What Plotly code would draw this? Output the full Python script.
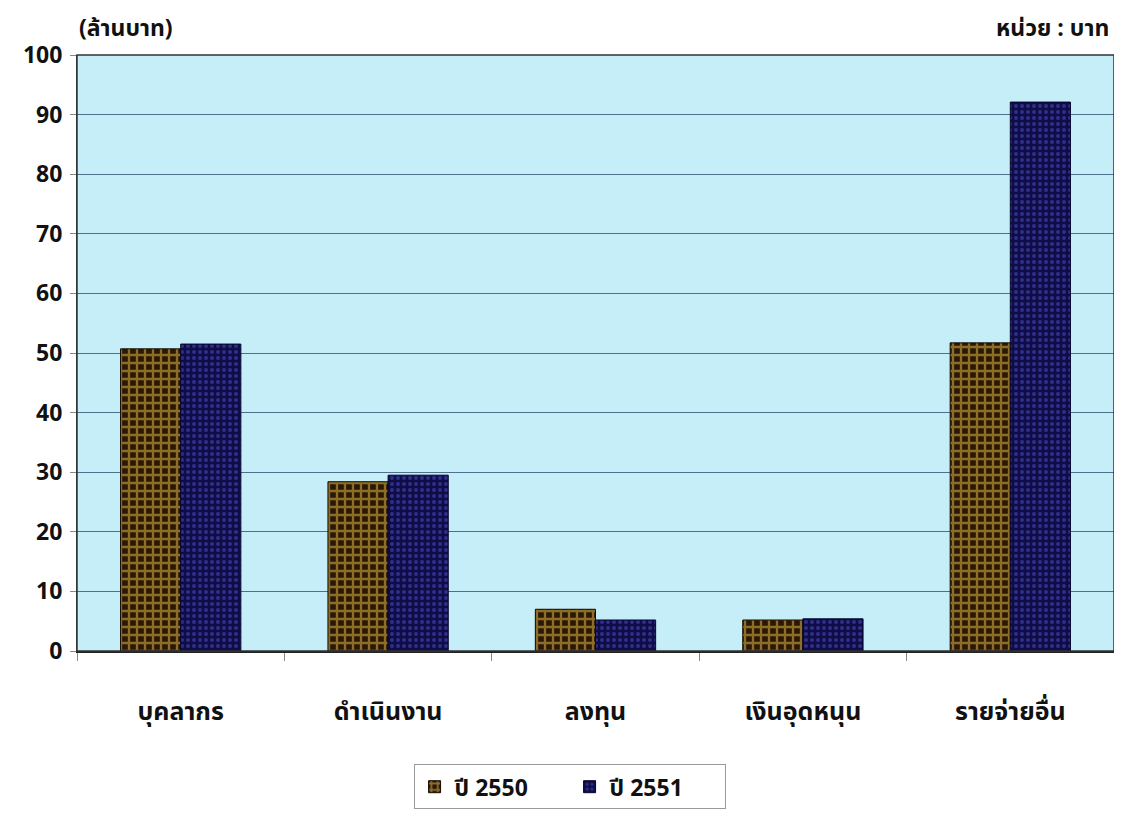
import plotly.graph_objects as go

categories = ["บุคลากร", "ดำเนินงาน", "ลงทุน", "เงินอุดหนุน", "รายจ่ายอื่น"]
series_names = ["ปี 2550", "ปี 2551"]
values_2550 = [50.7, 28.4, 7.0, 5.2, 51.7]
values_2551 = [51.5, 29.5, 5.2, 5.4, 92.1]
y_ticks = [0, 10, 20, 30, 40, 50, 60, 70, 80, 90, 100]

FONT = "Tahoma, 'Noto Sans Thai', 'Noto Sans', sans-serif"

fig = go.Figure()
fig.add_trace(go.Bar(
    x=categories, y=values_2550, name=series_names[0],
    marker=dict(
        color="#2a1805",
        line=dict(color="#140a00", width=1),
        pattern=dict(shape="+", fgcolor="#f2c24c", bgcolor="#2a1805", size=8, solidity=0.5),
    ),
))
fig.add_trace(go.Bar(
    x=categories, y=values_2551, name=series_names[1],
    marker=dict(
        color="#0f0c46",
        line=dict(color="#05052a", width=1),
        pattern=dict(shape=".", fgcolor="#4e52d0", bgcolor="#0f0c46", size=6, solidity=0.35),
    ),
))

fig.update_layout(
    width=1106, height=807,
    margin=dict(l=69, r=0, t=47, b=164),
    paper_bgcolor="white",
    plot_bgcolor="#c6eef8",
    barmode="group",
    bargap=0.42,
    bargroupgap=0.0,
    font=dict(family=FONT, size=18, color="#111111"),
    showlegend=True,
    legend=dict(
        orientation="h", x=0.475, xanchor="center", y=-0.19, yanchor="top",
        bordercolor="#999999", borderwidth=1, bgcolor="white",
        font=dict(family=FONT, size=23, color="#111111", weight="bold"),
        itemwidth=30, entrywidth=110, traceorder="normal",
    ),
    xaxis=dict(
        showgrid=False,
        showline=True, linecolor="#222222", linewidth=2, mirror=False,
        ticks="outside", tickson="boundaries", ticklen=8, tickcolor="#888888",
        tickfont=dict(family=FONT, size=25, color="#111111", weight="bold"),
        ticklabelstandoff=37,
    ),
    yaxis=dict(
        range=[0, 100], tickvals=y_ticks,
        showgrid=True, gridcolor="#4f6f8c", gridwidth=1,
        showline=True, linecolor="#444444", linewidth=1, mirror=True,
        ticks="outside", ticklen=6, tickcolor="#888888",
        tickfont=dict(family=FONT, size=23, color="#111111", weight="bold"),
        ticklabelstandoff=3,
        zeroline=False,
    ),
    annotations=[
        dict(text="(ล้านบาท)", x=0, xref="paper", xanchor="left", y=1.012, yref="paper",
             yanchor="bottom", showarrow=False,
             font=dict(family=FONT, size=23, color="#111111", weight="bold")),
        dict(text="หน่วย : บาท", x=0.997, xref="paper", xanchor="right", y=1.012, yref="paper",
             yanchor="bottom", showarrow=False,
             font=dict(family=FONT, size=23, color="#111111", weight="bold")),
    ],
)
fig.add_shape(type="rect", xref="paper", yref="paper", x0=0, x1=1, y0=0, y1=1,
              line=dict(color="#333333", width=1.5), fillcolor="rgba(0,0,0,0)", layer="above")

fig.write_html("out.html")
